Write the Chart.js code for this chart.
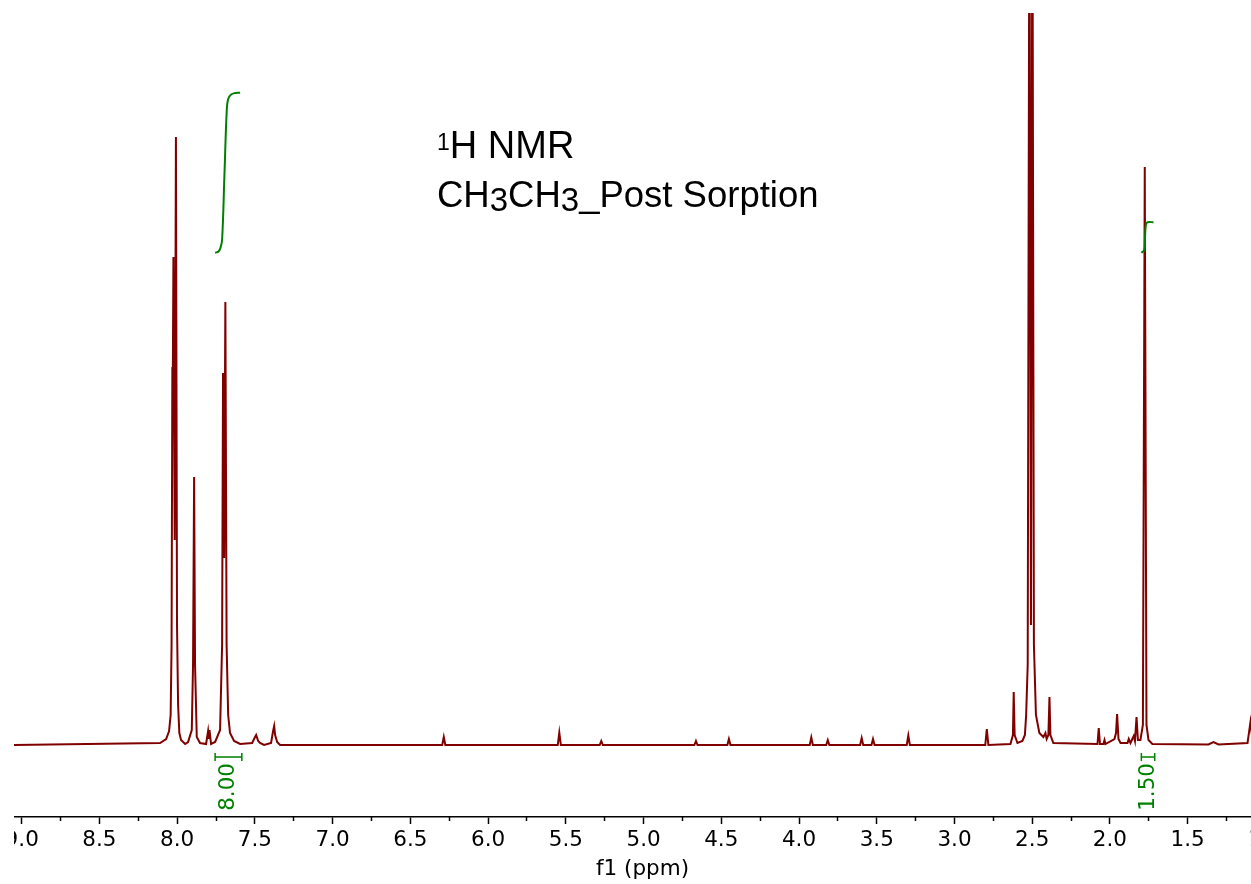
<!DOCTYPE html>
<html>
<head>
<meta charset="utf-8">
<script src="https://cdn.jsdelivr.net/npm/chart.js@4.4.1/dist/chart.umd.min.js"></script>
<style>
html, body { margin: 0; padding: 0; background: #fff; }
#wrap { position: absolute; left: 14px; top: 0; width: 1237px; height: 884px; overflow: hidden; }
#spec { position: absolute; left: -30px; top: 0; width: 1317px; height: 884px; }
</style>
</head>
<body>
<div id="wrap"><canvas id="spec" width="1317" height="884"></canvas></div>
<script>
// chemical shift window (ppm), reversed axis
const ppmLeft = 9.0496;
const ppmRight = 0.964;

const majorTicks = [9.0, 8.5, 8.0, 7.5, 7.0, 6.5, 6.0, 5.5, 5.0, 4.5, 4.0, 3.5, 3.0, 2.5, 2.0, 1.5, 1.0];
const minorTicks = [8.75, 8.25, 7.75, 7.25, 6.75, 6.25, 5.75, 5.25, 4.75, 4.25, 3.75, 3.25, 2.75, 2.25, 1.75, 1.25];

// spectrum (ppm, relative intensity)
const specPpm = [
  9.06, 8.110, 8.071, 8.052, 8.042, 8.036, 8.031, 8.028, 8.024, 8.016, 8.008, 8.001, 7.994, 7.986, 7.975, 7.949,
  7.930, 7.906, 7.898, 7.891, 7.885, 7.874, 7.853,
  7.814, 7.801, 7.796, 7.792, 7.782,
  7.756, 7.724, 7.711, 7.705, 7.698, 7.690, 7.682, 7.672, 7.660, 7.634, 7.595,
  7.518, 7.499, 7.492, 7.479, 7.467, 7.441,
  7.396, 7.383, 7.376, 7.370, 7.357, 7.338,
  6.295, 6.285, 6.275,
  5.552, 5.542, 5.532,
  5.282, 5.272, 5.262,
  4.673, 4.663, 4.653,
  4.461, 4.451, 4.441,
  3.931, 3.921, 3.911,
  3.825, 3.815, 3.805,
  3.607, 3.597, 3.587,
  3.534, 3.524, 3.514,
  3.307, 3.297, 3.287,
  2.802, 2.792, 2.782,
  2.640, 2.624, 2.619, 2.613, 2.595,
  2.563, 2.547, 2.539, 2.529, 2.518, 2.508, 2.499, 2.489, 2.476, 2.454,
  2.428, 2.415, 2.407, 2.396, 2.389, 2.383, 2.364,
  2.080, 2.072, 2.064,
  2.042, 2.035, 2.029,
  1.971, 1.961, 1.954, 1.945, 1.932,
  1.887, 1.879, 1.868,
  1.847, 1.839, 1.829, 1.820, 1.804, 1.788, 1.776, 1.765, 1.752, 1.727,
  1.366, 1.334, 1.302,
  1.115, 1.096, 1.083
];
const specInt = [
  0, 2, 6, 14, 30, 100, 378, 370, 488, 205, 608, 120, 40, 12, 5, 1,
  3, 15, 80, 268, 80, 8, 2,
  1, 14, 6, 15, 1,
  3, 15, 100, 372, 187, 443, 100, 30, 12, 4, 1,
  2, 8, 10, 4, 2, 0,
  2, 14, 19, 10, 3, 0,
  0, 8, 0,
  0, 12.5, 0,
  0, 4, 0,
  0, 4, 0,
  0, 6, 0,
  0, 7.5, 0,
  0, 5, 0,
  0, 7, 0,
  0, 6, 0,
  0, 9.5, 0,
  0, 16, 0,
  1, 10, 53, 10, 2,
  4, 10, 30, 80, 900, 120, 900, 100, 30, 12,
  8, 12, 6, 10, 48, 10, 2,
  1, 17, 1,
  1, 5, 1,
  6, 12, 31, 6, 2,
  2, 6, 2,
  9, 4, 28, 5, 5, 20, 578, 20, 5, 1,
  0.5, 3, 0.5,
  2, 23, 5
];

// integral curves
const int1Ppm = [7.756, 7.734, 7.721, 7.711, 7.696, 7.681, 7.672, 7.653, 7.627, 7.595];
const int1Val = [492.3, 493.5, 497.5, 505, 570, 635, 646, 650.5, 652, 652.3];
const int2Ppm = [1.798, 1.779, 1.775, 1.769, 1.758, 1.720];
const int2Val = [492.3, 495, 505, 520, 522.7, 522.7];

const intRanges = [[7.756, 7.584], [1.798, 1.712]];
const intLabels = ['8.00', '1.50'];

const titleLine1 = [['1', 'sup'], ['H NMR', '']];
const titleLine2 = [['CH', ''], ['3', 'sub'], ['CH', ''], ['3', 'sub'], ['_Post Sorption', '']];

const RED = 'rgb(128, 0, 0)';
const GREEN = 'rgb(0, 128, 0)';

function pts(xs, ys) {
  return xs.map((x, i) => ({x: x, y: ys[i]}));
}

const integralMarks = {
  id: 'integralMarks',
  afterDatasetsDraw(chart) {
    const ctx = chart.ctx;
    const xs = chart.scales.x, ys = chart.scales.y;
    const by = ys.getPixelForValue(-12);
    ctx.save();
    ctx.strokeStyle = GREEN;
    ctx.fillStyle = GREEN;
    ctx.lineWidth = 1.5;
    intRanges.forEach((r, i) => {
      const x1 = xs.getPixelForValue(r[0]);
      const x2 = xs.getPixelForValue(r[1]);
      ctx.beginPath();
      ctx.moveTo(x1, by); ctx.lineTo(x2, by);
      ctx.moveTo(x1, by - 4); ctx.lineTo(x1, by + 4);
      ctx.moveTo(x2, by - 4); ctx.lineTo(x2, by + 4);
      ctx.stroke();
      const cx = (x1 + x2) / 2;
      ctx.save();
      ctx.translate(cx + 5.5, by + 6);
      ctx.rotate(-Math.PI / 2);
      ctx.font = '21.5px "DejaVu Sans"';
      ctx.textAlign = 'right';
      ctx.textBaseline = 'alphabetic';
      ctx.fillText(intLabels[i], 0, 0);
      ctx.restore();
    });
    ctx.restore();
  }
};

function drawRuns(ctx, runs, x, base, size) {
  runs.forEach(r => {
    let dy = 0;
    if (r[1] === 'sup') { ctx.font = '23px "Liberation Sans"'; dy = -8; }
    else if (r[1] === 'sub') { ctx.font = (size - 3.5) + 'px "Liberation Sans"'; dy = 4.5; }
    else { ctx.font = size + 'px "Liberation Sans"'; }
    ctx.fillText(r[0], x, base + dy);
    x += ctx.measureText(r[0]).width;
  });
}

const nmrTitle = {
  id: 'nmrTitle',
  afterDraw(chart) {
    const ctx = chart.ctx;
    const ox = chart.chartArea.left - 14;
    ctx.save();
    ctx.fillStyle = '#000';
    ctx.textAlign = 'left';
    ctx.textBaseline = 'alphabetic';
    drawRuns(ctx, titleLine1, ox + 437, 158.3, 38);
    drawRuns(ctx, titleLine2, ox + 437, 206.7, 36.5);
    ctx.restore();
  }
};

const tickFont = {family: 'DejaVu Sans', size: 21.5};

new Chart(document.getElementById('spec'), {
  type: 'line',
  data: {
    datasets: [
      {
        data: pts(int1Ppm, int1Val),
        borderColor: GREEN, borderWidth: 2, pointRadius: 0, tension: 0.4, fill: false
      },
      {
        data: pts(int2Ppm, int2Val),
        borderColor: GREEN, borderWidth: 2, pointRadius: 0, tension: 0.4, fill: false
      },
      {
        data: pts(specPpm, specInt),
        borderColor: RED, borderWidth: 2, pointRadius: 0, tension: 0, fill: false
      }
    ]
  },
  options: {
    responsive: false,
    animation: false,
    devicePixelRatio: 1,
    layout: {padding: {left: 30, right: 30, top: 13, bottom: 0}},
    plugins: {legend: {display: false}, tooltip: {enabled: false}},
    scales: {
      x: {
        type: 'linear',
        position: 'bottom',
        reverse: true,
        min: ppmRight,
        max: ppmLeft,
        weight: 1,
        afterBuildTicks: s => { s.ticks = majorTicks.map(v => ({value: v})); },
        afterFit: s => { s.height = 67; },
        ticks: {
          callback: v => Number(v).toFixed(1),
          font: tickFont, color: '#000', padding: 4,
          maxRotation: 0, autoSkip: false
        },
        grid: {drawOnChartArea: false, tickLength: 7, tickWidth: 1.5, tickColor: '#000'},
        border: {color: '#000', width: 1.5},
        title: {display: true, text: 'f1 (ppm)', font: tickFont, color: '#000', padding: {top: 0, bottom: 2}}
      },
      xm: {
        type: 'linear',
        position: 'bottom',
        reverse: true,
        min: ppmRight,
        max: ppmLeft,
        weight: 0,
        afterBuildTicks: s => { s.ticks = minorTicks.map(v => ({value: v})); },
        afterFit: s => { s.height = 0; },
        ticks: {display: false},
        grid: {drawOnChartArea: false, tickLength: 4, tickWidth: 1.5, tickColor: '#000'},
        border: {display: false}
      },
      y: {display: false, min: -72, max: 732}
    }
  },
  plugins: [integralMarks, nmrTitle]
});
</script>
</body>
</html>
